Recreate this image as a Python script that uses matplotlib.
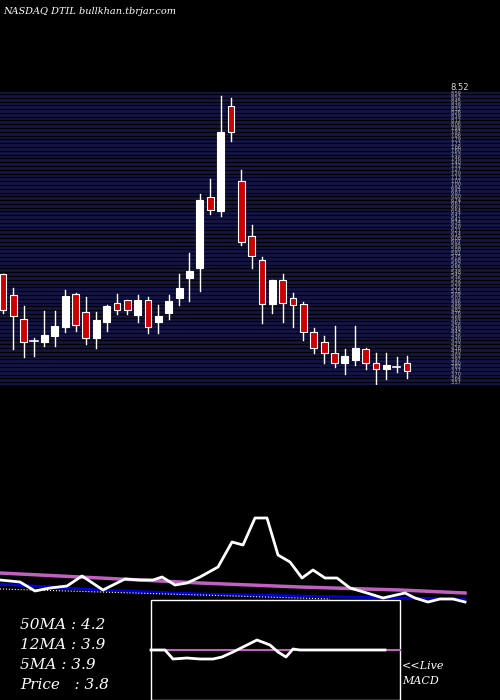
import matplotlib
matplotlib.use("Agg")
import matplotlib.pyplot as plt
import numpy as np
from matplotlib.patches import Rectangle

opens  = [5.46,5.08,4.67,4.29,4.27,4.38,4.53,5.10,4.79,4.33,4.62,4.95,5.00,4.74,5.00,4.62,4.77,5.03,5.38,5.55,
          6.79,6.55,8.38,7.07,6.12,5.70,4.93,5.34,5.03,4.93,4.45,4.26,4.08,3.90,3.96,4.14,3.90,3.79,3.84,3.90]
highs  = [5.46,5.20,4.89,4.34,4.81,4.81,5.17,5.12,5.05,4.79,4.91,5.10,5.00,5.08,5.05,4.91,5.08,5.46,5.82,6.84,
          7.10,8.55,8.51,7.26,6.31,5.74,5.34,5.45,5.12,4.96,4.52,4.38,4.55,4.15,4.55,4.17,4.07,4.08,4.00,4.02]
lows   = [4.77,4.15,4.00,4.03,4.20,4.20,4.45,4.46,4.24,4.17,4.46,4.76,4.76,4.62,4.43,4.43,4.67,4.91,4.98,5.15,
          6.50,6.46,7.76,5.95,5.55,4.60,4.77,4.62,4.53,4.31,4.08,3.90,3.83,3.72,3.86,3.79,3.53,3.62,3.74,3.65]
closes = [4.83,4.72,4.26,4.29,4.39,4.55,5.07,4.57,4.34,4.65,4.89,4.83,4.83,5.00,4.53,4.72,4.98,5.20,5.51,6.74,
          6.57,7.93,7.93,6.01,5.76,4.93,5.34,4.95,4.91,4.45,4.17,4.07,3.90,4.02,4.17,3.91,3.79,3.86,3.84,3.77]
grid_levels = np.arange(3.57, 8.60, 0.066)

# lower panel (pixel units of the picture)
ma_x = [0,20,35,50,67,82,103,125,140,153,162,175,187,200,218,232,243,255,267,278,290,302,313,325,337,350,367,383,405,415,428,440,453,465]
ma_price = [580,582,591,588,586,576,590,579,580,580,577,585,583,577,567,542,545,518,518,555,562,578,570,578,578,588,593,598,593,598,602,599,599,602]
ma50_x = [0,100,200,300,400,465]
ma50 = [573,578,583,587,590,593]
ma12_x = [0,100,200,300,400,465]
ma12 = [584,590,594,596,598,599]
ma5_x = [0,100,200,330]
ma5 = [589,592,595,599]
macd_x = [151,165,173,187,200,213,222,233,245,257,270,278,286,293,300,385]
macd = [650,650,659,658,659,659,657,652,646,640,645,652,657,649,650,650]
sig_x = [151,400]
sig = [650,650]

fig = plt.figure(figsize=(5,7), dpi=100, facecolor='black')
base = fig.add_axes([0,0,1,1]); base.set_xlim(0,500); base.set_ylim(700,0); base.axis('off')

ax = fig.add_axes([0, (700-385)/700, 1, 293/700])
ax.set_facecolor('#141446')
ax.set_xlim(-3/10.36, 497/10.36)
ax.set_ylim(3.52, 8.62)
ax.set_xticks([]); ax.set_yticks([])
for s in ax.spines.values():
    s.set_visible(False)
for g in grid_levels:
    ax.axhline(g, color='black', lw=0.9, zorder=1)
    ax.text(43.2, g, f"{g:.2f}", color='#bbbbbb', fontsize=3.5, va='center', zorder=2)
ax.text(43.2, 8.62, "8.52", color='#dddddd', fontsize=6, va='bottom')
for i,(o,h,l,c) in enumerate(zip(opens,highs,lows,closes)):
    ax.plot([i,i],[l,h], color='white', lw=1, zorder=3)
    col = '#cc0000' if c < o else 'white'
    lo, hi = min(o,c), max(o,c)
    if hi-lo < 0.02:
        ax.plot([i-0.35,i+0.35],[o,o], color='white', lw=1.2, zorder=4)
    else:
        ax.add_patch(Rectangle((i-0.33,lo),0.66,hi-lo, facecolor=col, edgecolor='white', lw=0.8, zorder=4))

base.plot(ma50_x, ma50, color='#c060c0', lw=2.5)
base.plot(ma12_x, ma12, color='#0000dd', lw=2)
base.plot(ma5_x, ma5, color='white', lw=0.8, ls=':')
base.plot(ma_x, ma_price, color='white', lw=2)
base.add_patch(Rectangle((151,600),249,100, fill=False, edgecolor='white', lw=1))
base.plot(sig_x, sig, color='#c060c0', lw=1.5)
base.plot(macd_x, macd, color='white', lw=2)

txt = dict(color='white', family='DejaVu Serif', style='italic')
base.text(3, 12, "NASDAQ DTIL bullkhan.tbrjar.com", fontsize=7, va='center', **txt)
for y, s in [(625,"50MA : 4.2"),(645,"12MA : 3.9"),(665,"5MA : 3.9"),(685,"Price   : 3.8")]:
    base.text(20, y, s, fontsize=11, va='center', **txt)
base.text(402, 666, "<<Live", fontsize=8, va='center', **txt)
base.text(402, 681, "MACD", fontsize=8, va='center', **txt)
fig.savefig("out.png", dpi=100, facecolor='black')
